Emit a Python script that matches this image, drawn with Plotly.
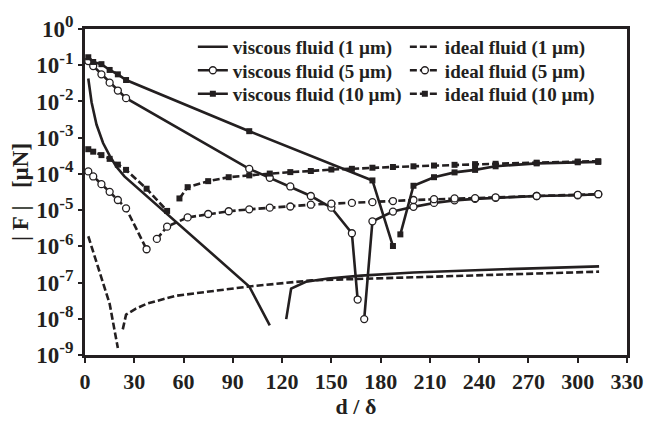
import plotly.graph_objects as go

# ---------------- data ----------------
x_visc1 = [2, 4, 7, 11, 15, 19, 24, 100, 112.5, None, 122.5, 125.5, 134.5, 148, 168, 200, 250, 313]
y_visc1 = [4.3e-2, 9.5e-3, 2.3e-3, 7.1e-4, 3.2e-4, 1.6e-4, 8.5e-5, 7.8e-8, 6.6e-9, None,
           9.8e-9, 6.8e-8, 1.05e-7, 1.29e-7, 1.55e-7, 1.9e-7, 2.3e-7, 2.8e-7]

x_ideal1 = [2, 9, 15, 20, None, 23, 25, 31, 37.5, 55, 80, 100, 138, 200, 313]
y_ideal1 = [1.9e-6, 1.9e-7, 2.6e-8, 1.55e-9, None, 5.1e-9, 1.3e-8, 1.9e-8, 2.6e-8,
            4.3e-8, 6.0e-8, 7.8e-8, 1.15e-7, 1.4e-7, 2.0e-7]

x_visc5 = [2, 5, 10, 15, 20, 25, 100, 112.5, 125, 137.5, 150, 162.5, 166, None,
           170, 175, 187.5, 200, 212.5, 225, 237.5, 250, 275, 300, 312.5]
y_visc5 = [1.3e-1, 9.5e-2, 5.6e-2, 3.3e-2, 2.0e-2, 1.23e-2, 1.38e-4, 7.8e-5, 4.5e-5,
           2.45e-5, 1.17e-5, 2.3e-6, 3.4e-8, None, 9.8e-9, 4.9e-6, 9.1e-6, 1.23e-5,
           1.58e-5, 1.86e-5, 2.04e-5, 2.19e-5, 2.45e-5, 2.57e-5, 2.75e-5]

x_ideal5 = [2, 5, 10, 15, 20, 25, 37.5, None, 43.75, 50, 62.5, 75, 87.5, 100, 112.5,
            125, 137.5, 150, 162.5, 175, 187.5, 200, 212.5, 225, 237.5, 250, 275, 300, 312.5]
y_ideal5 = [1.17e-4, 8.5e-5, 5.2e-5, 3.2e-5, 1.9e-5, 1.12e-5, 8.3e-7, None, 1.6e-6,
            3.5e-6, 6.3e-6, 7.8e-6, 9.3e-6, 1.05e-5, 1.17e-5, 1.26e-5, 1.41e-5, 1.51e-5,
            1.58e-5, 1.66e-5, 1.78e-5, 1.9e-5, 2.0e-5, 2.1e-5, 2.14e-5, 2.24e-5, 2.45e-5,
            2.63e-5, 2.75e-5]

x_visc10 = [2, 5, 10, 15, 20, 25, 100, 175, 187.5, None, 192, 200, 212.5, 225, 237.5,
            250, 275, 300, 312.5]
y_visc10 = [1.66e-1, 1.23e-1, 1.07e-1, 7.4e-2, 5.6e-2, 3.9e-2, 1.51e-3, 6.6e-5, 1.02e-6,
            None, 2.14e-6, 4.7e-5, 8.1e-5, 1.1e-4, 1.29e-4, 1.62e-4, 1.95e-4, 2.09e-4, 2.14e-4]

x_ideal10 = [2, 5, 10, 15, 20, 25, 37.5, 50, None, 57.5, 62.5, 75, 87.5, 100, 112.5, 125,
             137.5, 150, 162.5, 175, 187.5, 200, 212.5, 225, 237.5, 250, 275, 300, 312.5]
y_ideal10 = [4.8e-4, 4.1e-4, 3.3e-4, 2.6e-4, 1.8e-4, 1.29e-4, 3.9e-5, 9.5e-6, None,
             2.1e-5, 4.3e-5, 6.3e-5, 8.1e-5, 9.1e-5, 1.02e-4, 1.12e-4, 1.2e-4, 1.32e-4,
             1.38e-4, 1.48e-4, 1.55e-4, 1.62e-4, 1.7e-4, 1.78e-4, 1.86e-4, 1.9e-4,
             2.04e-4, 2.19e-4, 2.24e-4]

x_ticks = [0, 30, 60, 90, 120, 150, 180, 210, 240, 270, 300, 330]
y_tick_exps = [0, -1, -2, -3, -4, -5, -6, -7, -8, -9]

names = ["viscous fluid (1 µm)", "ideal fluid (1 µm)",
         "viscous fluid (5 µm)", "ideal fluid (5 µm)",
         "viscous fluid (10 µm)", "ideal fluid (10 µm)"]

# ---------------- figure ----------------
INK = "#231f20"
FONT = "Liberation Serif"
LW = 2.6
DASH = "7px,3px"

fig = go.Figure()

def add(x, y, name, dash, legend, marker=None):
    kw = dict(x=x, y=y, name=name, legend=legend,
              line=dict(color=INK, width=LW, dash=dash))
    if marker is None:
        fig.add_trace(go.Scatter(mode="lines", **kw))
    else:
        fig.add_trace(go.Scatter(mode="lines+markers", marker=marker, **kw))

open_circle = dict(symbol="circle", size=7, color="white", line=dict(color=INK, width=1.3))
filled_sq = dict(symbol="square", size=6, color=INK, line=dict(color=INK, width=0))

add(x_visc1, y_visc1, names[0], "solid", "legend")
add(x_ideal1, y_ideal1, names[1], DASH, "legend")
add(x_visc5, y_visc5, names[2], "solid", "legend2", open_circle)
add(x_ideal5, y_ideal5, names[3], DASH, "legend2", open_circle)
add(x_visc10, y_visc10, names[4], "solid", "legend3", filled_sq)
add(x_ideal10, y_ideal10, names[5], DASH, "legend3", filled_sq)

xtickfont = dict(family=FONT, size=22, color=INK, weight="bold")
ytickfont = dict(family=FONT, size=23, color=INK, weight="bold")
legfont = dict(family=FONT, size=19, color=INK, weight="bold")
titlefont = dict(family=FONT, size=22, color=INK, weight="bold")
ytitlefont = dict(family=FONT, size=23, color=INK, weight="bold")

def leg(yc):
    return dict(orientation="h", x=0.199, y=yc, xanchor="left", yanchor="middle",
                entrywidth=167, bgcolor="rgba(0,0,0,0)", font=legfont,
                itemwidth=30, traceorder="normal")

fig.update_layout(
    width=656, height=424,
    margin=dict(l=85, r=19, t=16, b=62),
    paper_bgcolor="white", plot_bgcolor="white",
    font=dict(family=FONT, color=INK),
    legend=leg(0.945), legend2=leg(0.873), legend3=leg(0.801),
    xaxis=dict(range=[0, 330], tickvals=x_ticks, ticktext=[str(v) for v in x_ticks],
               showline=True, linewidth=3, linecolor=INK, mirror=True,
               ticks="outside", ticklen=5, tickwidth=2, tickcolor=INK,
               showgrid=False, zeroline=False, tickfont=xtickfont,
               ticklabeloverflow="allow",
               title=dict(text="d / δ", font=titlefont, standoff=2)),
    yaxis=dict(type="log", range=[-9, 0],
               tickvals=[10.0 ** e for e in y_tick_exps],
               ticktext=["10<sup><span style='font-size:17px'>%d</span></sup>" % e
                         for e in y_tick_exps],
               showline=True, linewidth=3, linecolor=INK, mirror=True,
               ticks="outside", ticklen=4, tickwidth=2, tickcolor=INK,
               showgrid=False, zeroline=False, tickfont=ytickfont,
               ticklabeloverflow="allow",
               title=dict(text="|&nbsp;F&nbsp;|&nbsp;&nbsp;&nbsp;[µN]", font=ytitlefont,
                          standoff=2)),
)

fig.write_html("out.html")
